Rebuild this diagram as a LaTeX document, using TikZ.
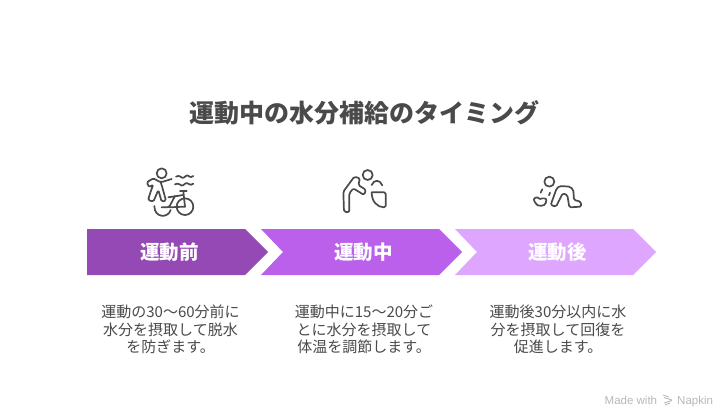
\documentclass[tikz,border=0pt]{standalone}
\usepackage{fontspec}
\usepackage{xcolor}
\setmainfont{Noto Sans CJK JP}
\newfontfamily\markfont{Liberation Sans}
\definecolor{stepone}{HTML}{9549B5}
\definecolor{steptwo}{HTML}{BA60EA}
\definecolor{stepthree}{HTML}{DEA6FF}
\definecolor{inktext}{HTML}{4A4A4A}
\definecolor{inkmark}{HTML}{B8B8B8}
\begin{document}
\begin{tikzpicture}[x=1pt,y=-1pt]
\tikzstyle{titletext} = [
	text=inktext,
	font=\fontsize{25}{29}\selectfont\bfseries,
	inner sep=0pt
];
\tikzstyle{steptext} = [
	text=white,
	font=\fontsize{19.5}{23}\selectfont\bfseries,
	inner sep=0pt
];
\tikzstyle{bodytext} = [
	text=inktext,
	align=center,
	font=\fontsize{15}{17.6}\selectfont,
	inner sep=0pt
];
\tikzstyle{marktext} = [
	text=inkmark,
	font=\fontsize{11.5}{13}\markfont,
	inner sep=0pt
];
\tikzstyle{iconline} = [
	draw=inktext,
	line width=1.7pt,
	line cap=round,
	line join=round,
	rounded corners=1.5pt
];

\useasboundingbox (0,0) rectangle (728,420);
\fill[white] (0,0) rectangle (728,420);

\node[titletext](title) at (364,112.5) {運動中の水分補給のタイミング};

%arrows
\fill[stepone] (87,229) -- (245,229) -- (268,252) -- (245,275) -- (87,275) -- cycle;
\fill[steptwo] (261,229) -- (439,229) -- (462,252) -- (439,275) -- (261,275) -- (283,252) -- cycle;
\fill[stepthree] (455,229) -- (633,229) -- (656,252) -- (633,275) -- (455,275) -- (477,252) -- cycle;

\node[steptext](before) at (169.5,252) {運動前};
\node[steptext](during) at (363.5,252) {運動中};
\node[steptext](after) at (557.5,252) {運動後};

%descriptions
\node[bodytext](beforetext) at (170.5,329.5) {運動の30〜60分前に\\水分を摂取して脱水\\を防ぎます。};
\node[bodytext](duringtext) at (364,329.5) {運動中に15〜20分ご\\とに水分を摂取して\\体温を調節します。};
\node[bodytext](aftertext) at (558,329.5) {運動後30分以内に水\\分を摂取して回復を\\促進します。};

%first icon
\begin{scope}[shift={(120,150)},x=0.3333pt,y=-0.3333pt]
	\draw[iconline] (125,70) circle (15);
	\draw[iconline] (155,87) -- (122,97) -- (100,85) -- (80,97) -- (88,112) -- (100,103)
		-- (92,125) -- (84,150) -- (100,155) -- (115,120) -- (125,155) -- (138,152) -- (125,105) -- (122,97);
	\draw[iconline] (168,80) .. controls (180,72) and (185,88) .. (195,80) .. controls (205,72) and (210,88) .. (220,78);
	\draw[iconline] (165,103) .. controls (177,95) and (183,111) .. (193,103) .. controls (203,95) and (210,111) .. (220,101);
	\draw[iconline] (103,168) .. controls (103,205) and (145,205) .. (152,180);
	\draw[iconline] (195,170) circle (25);
	\draw[iconline] (180,124) -- (200,124);
	\draw[iconline] (190,124) -- (195,170);
	\draw[iconline] (145,142) -- (190,135);
	\draw[iconline] (165,138) -- (147,172) -- (125,172);
	\draw[iconline] (147,172) -- (195,170);
\end{scope}

%second icon
\begin{scope}[shift={(320,150)},x=0.3333pt,y=-0.3333pt]
	\draw[iconline] (143,75) circle (15);
	\draw[iconline] (72,185) -- (70,125) -- (103,80) -- (120,85) -- (115,105) -- (138,120) -- (132,135)
		-- (100,115) -- (88,130) -- (88,187) -- cycle;
	\draw[iconline] (155,127) -- (197,127) -- (197,172) .. controls (172,172) and (155,155) .. (155,127);
	\draw[iconline] (155,105) .. controls (162,88) and (180,88) .. (187,106);
\end{scope}

%third icon
\begin{scope}[shift={(510,150)},x=0.3333pt,y=-0.3333pt]
	\draw[iconline] (118,95) circle (15);
	\draw[iconline] (122,165) -- (140,115) -- (150,108) -- (180,110) -- (190,120) -- (192,150) -- (212,155) -- (214,170)
		-- (178,172) -- (172,135) -- (158,130) -- (138,170) -- cycle;
	\draw[iconline] (90,147) .. controls (78,135) and (68,148) .. (76,156) .. controls (80,170) and (105,170) .. (108,155) .. controls (110,145) and (100,143) .. (90,147);
	\draw[iconline] (97,118) -- (92,128);
	\draw[iconline] (120,128) -- (117,136);
\end{scope}

%footer mark
\node[marktext,anchor=base west](made) at (604.5,404) {Made with};
\node[marktext,anchor=base west](napkin) at (677,404) {Napkin};
\draw[inkmark,line width=0.9pt] (663,395) -- (669,397) (664,397.5) -- (672,400) (664,403) -- (672,400.5) (665,405) -- (670,403);
\end{tikzpicture}
\end{document}
